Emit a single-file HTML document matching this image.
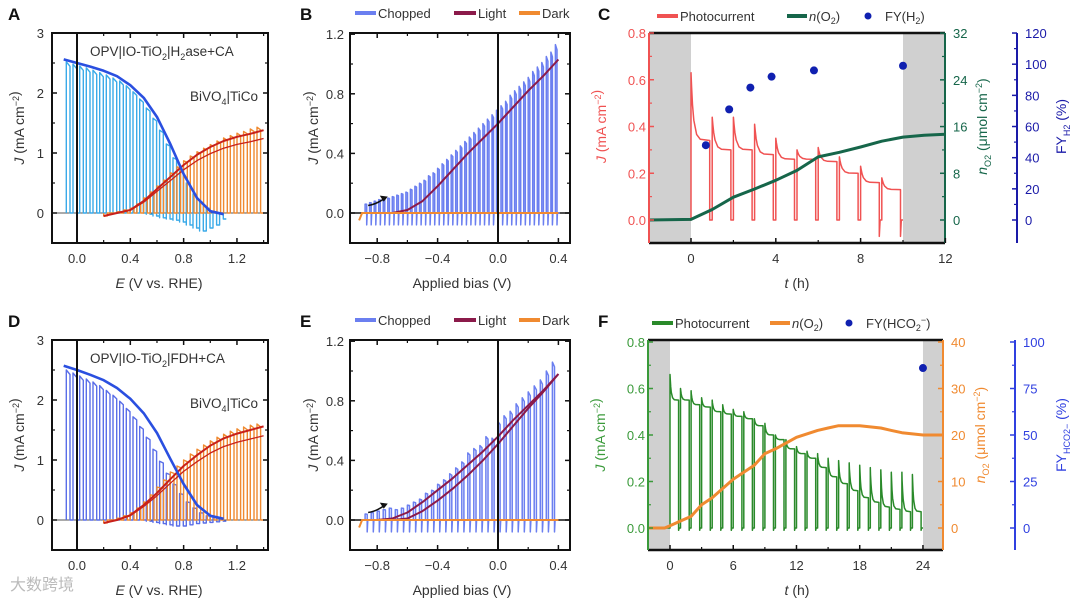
<!DOCTYPE html>
<html><head><meta charset="utf-8"><style>
html,body{margin:0;padding:0;background:#fff;}
svg{display:block;font-family:"Liberation Sans","Noto Sans CJK SC",sans-serif;}
</style></head><body>
<svg id="chart" width="1080" height="603" viewBox="0 0 1080 603" xmlns="http://www.w3.org/2000/svg"></svg>
<script>
// ---------- DATA ----------
// Panel A
const A_lightE=[-0.1,0,0.1,0.2,0.3,0.4,0.5,0.6,0.7,0.8,0.9,1.0,1.1];
const A_lightJ=[2.56,2.5,2.44,2.37,2.28,2.13,1.92,1.6,1.15,0.65,0.25,0.03,-0.02];
const A_chopE=[-0.08,-0.03,0.02,0.07,0.12,0.17,0.22,0.27,0.32,0.37,0.42,0.47,0.52,0.57,0.62,0.67,0.72,0.77,0.82,0.87,0.92,0.97,1.02,1.07];
const A_chopOn=[2.52,2.48,2.45,2.42,2.38,2.34,2.3,2.25,2.2,2.12,2.02,1.9,1.75,1.58,1.38,1.15,0.92,0.7,0.5,0.32,0.18,0.08,0.02,0];
const A_chopOff=[0,0,0,0,0,0,0,0,0,0,0,0,-0.02,-0.05,-0.08,-0.1,-0.12,-0.15,-0.2,-0.25,-0.3,-0.25,-0.2,-0.1];
const A_bivE=[0.2,0.3,0.4,0.5,0.6,0.7,0.8,0.9,1.0,1.1,1.2,1.3,1.4];
const A_bivJ=[-0.05,0,0.05,0.2,0.4,0.6,0.8,0.97,1.1,1.2,1.27,1.32,1.38];
const A_bchopE=[0.2,0.25,0.3,0.35,0.4,0.45,0.5,0.55,0.6,0.65,0.7,0.75,0.8,0.85,0.9,0.95,1.0,1.05,1.1,1.15,1.2,1.25,1.3,1.35];
const A_bchopOn=[-0.05,0,0.02,0.05,0.08,0.15,0.25,0.35,0.45,0.55,0.67,0.77,0.87,0.95,1.02,1.08,1.14,1.2,1.25,1.29,1.33,1.36,1.4,1.43];
// Panel D
const D_lightJ=[2.57,2.5,2.42,2.33,2.2,2.02,1.78,1.45,1.02,0.6,0.25,0.07,0.02];
const D_chopOn=[2.5,2.45,2.4,2.35,2.3,2.24,2.16,2.08,1.98,1.86,1.72,1.56,1.38,1.18,0.98,0.78,0.6,0.44,0.3,0.2,0.12,0.07,0.04,0.02];
const D_chopOff=[0,0,0,0,0,0,0,0,0,0,0,0,-0.02,-0.04,-0.06,-0.08,-0.1,-0.1,-0.08,-0.06,-0.05,-0.04,-0.03,-0.02];
const D_bivJ=[-0.05,0,0.08,0.25,0.45,0.68,0.9,1.08,1.24,1.36,1.44,1.5,1.56];
const D_bchopOn=[-0.05,0,0.03,0.07,0.12,0.2,0.3,0.42,0.55,0.67,0.8,0.9,1.0,1.1,1.18,1.25,1.32,1.38,1.43,1.48,1.52,1.55,1.58,1.6];
// Panel B
const B_lightV=[-0.9,-0.8,-0.7,-0.6,-0.5,-0.4,-0.3,-0.2,-0.1,0,0.1,0.2,0.3,0.4];
const B_lightJ=[0,0,0,0.02,0.08,0.18,0.29,0.4,0.5,0.6,0.71,0.82,0.92,1.03];
const B_chopV=[-0.88,-0.85,-0.82,-0.79,-0.76,-0.73,-0.70,-0.67,-0.64,-0.61,-0.58,-0.55,-0.52,-0.49,-0.46,-0.43,-0.40,-0.37,-0.34,-0.31,-0.28,-0.25,-0.22,-0.19,-0.16,-0.13,-0.10,-0.07,-0.04,-0.01,0.02,0.05,0.08,0.11,0.14,0.17,0.20,0.23,0.26,0.29,0.32,0.35,0.38];
const B_chopOn=[0.06,0.07,0.08,0.09,0.1,0.1,0.11,0.12,0.13,0.14,0.16,0.18,0.2,0.22,0.25,0.27,0.3,0.33,0.36,0.39,0.42,0.45,0.48,0.51,0.54,0.57,0.6,0.63,0.66,0.69,0.72,0.75,0.79,0.82,0.85,0.88,0.91,0.95,0.98,1.01,1.05,1.08,1.13];
// Panel E
const E_lightV=[-0.9,-0.8,-0.7,-0.6,-0.5,-0.4,-0.3,-0.2,-0.1,0,0.1,0.2,0.3,0.4];
const E_upJ=[0,0,0.01,0.05,0.12,0.2,0.28,0.37,0.46,0.56,0.67,0.77,0.87,0.98];
const E_downJ=[0,0,0,0.01,0.06,0.13,0.21,0.3,0.4,0.51,0.63,0.75,0.86,0.98];
const E_chopV=[-0.88,-0.84,-0.8,-0.76,-0.72,-0.68,-0.64,-0.6,-0.56,-0.52,-0.48,-0.44,-0.4,-0.36,-0.32,-0.28,-0.24,-0.2,-0.16,-0.12,-0.08,-0.04,0.0,0.04,0.08,0.12,0.16,0.2,0.24,0.28,0.32,0.36];
const E_chopOn=[0.04,0.05,0.06,0.07,0.08,0.07,0.08,0.1,0.12,0.14,0.18,0.2,0.24,0.27,0.31,0.35,0.39,0.45,0.48,0.5,0.56,0.55,0.66,0.7,0.73,0.78,0.82,0.86,0.9,0.94,1.0,1.06];
// Panel C
const C_segT=[0,1,2,3,4,5,6,7,8,9];
const C_peak=[0.63,0.44,0.44,0.41,0.35,0.3,0.31,0.27,0.23,0.18];
const C_end=[0.34,0.3,0.3,0.28,0.26,0.26,0.25,0.2,0.16,0.13];
const C_dip=[0,0,0,0,0,0,0,0,-0.07,-0.07];
const C_nT=[-2,0,1,2,3,4,5,6,7,8,9,10,11,12];
const C_n=[0,0.1,1.8,3.9,5.3,6.8,8.5,10.8,11.6,12.5,13.5,14.2,14.5,14.7];
const C_fyT=[0.7,1.8,2.8,3.8,5.8,10];
const C_fy=[48,71,85,92,96,99];
// Panel F
const F_segT=[0,1,2,3,4,5,6,7,8,9,10,11,12,13,14,15,16,17,18,19,20,21,22,23];
const F_peak=[0.66,0.6,0.59,0.56,0.55,0.53,0.51,0.5,0.47,0.45,0.4,0.38,0.35,0.33,0.32,0.3,0.29,0.28,0.27,0.26,0.25,0.24,0.24,0.23];
const F_end=[0.55,0.55,0.53,0.52,0.5,0.49,0.48,0.47,0.44,0.4,0.38,0.34,0.32,0.3,0.26,0.22,0.19,0.16,0.13,0.11,0.09,0.08,0.07,0.07];
const F_nT=[-2,-0.5,0,1,2,3,4,6,8,9,10,12,14,15,16,18,20,21,22,24,26];
const F_n=[0,0,0.5,1.5,2.5,5,6.5,10.5,13.5,16,17,19.5,21,21.5,22,22,21.5,21,20.5,20,20];
const F_fyT=[24];
const F_fy=[86];

// ---------- DRAW ----------
const NS='http://www.w3.org/2000/svg';
const svg=document.getElementById('chart');
function mk(tag,attrs,name){
  const e=document.createElementNS(NS,tag);
  for(const k in attrs) e.setAttribute(k,attrs[k]);
  
  
  svg.appendChild(e); return e;
}
function ln(x1,y1,x2,y2,c,w,name){return mk('line',{x1,y1,x2,y2,stroke:c,'stroke-width':w},name);}
function tx(x,y,s,o,name){const e=mk('text',Object.assign({x,y,'font-size':13,fill:'#333'},o||{}),name);e.innerHTML=s;return e;}
function poly(pts,c,w,name){return mk('path',{d:'M'+pts.map(p=>p[0].toFixed(1)+','+p[1].toFixed(1)).join('L'),fill:'none',stroke:c,'stroke-width':w,'stroke-linejoin':'round'},name);}
function series(xs,ys,fx,fy){return xs.map((v,i)=>[fx(v),fy(ys[i])]);}
function chop(pos,on,off,fx,fy,frac,spike){
  const p=[];const step=pos.length>1?pos[1]-pos[0]:0.05;
  pos.forEach((v,i)=>{const o=off?off[i]:0;p.push([fx(v),fy(o)]);p.push([fx(v),fy(on[i])]);p.push([fx(v+step*frac),fy(on[i]*0.97)]);p.push([fx(v+step*frac),fy(o-(spike||0))]);p.push([fx(v+step*frac+step*0.1),fy(o)]);p.push([fx(v+step),fy(o)]);});
  return p;
}
function box(x0,y0,x1,y1,name){mk('rect',{x:x0,y:y0,width:x1-x0,height:y1-y0,fill:'none',stroke:'#111','stroke-width':2},name);}
function yTicks(x,vals,fy,dir,c,labs,lx,anchor,name,minor){
  vals.forEach((v,i)=>{ln(x,fy(v),x+dir*5,fy(v),c,1.5,name+'-tick');if(labs)tx(lx,fy(v)+5,labs[i],{'text-anchor':anchor,fill:c==='#111'?'#333':c},name+'-label');});
  (minor||[]).forEach(v=>ln(x,fy(v),x+dir*3,fy(v),c,1.2,name+'-minor-tick'));
}
function xTicks(y,vals,fx,dir,labs,ly,name,minor){
  vals.forEach((v,i)=>{ln(fx(v),y,fx(v),y+dir*5,'#111',1.5,name+'-tick');if(labs)tx(fx(v),ly,labs[i],{'text-anchor':'middle'},name+'-label');});
  (minor||[]).forEach(v=>ln(fx(v),y,fx(v),y+dir*3,'#111',1.2,name+'-minor-tick'));
}
function ylabelRot(x,y,html,c,name){const e=mk('text',{x:0,y:0,'font-size':14,fill:c,'text-anchor':'middle',transform:`translate(${x},${y}) rotate(-90)`},name);e.innerHTML=html;}
function panelLetter(x,y,s){const e=mk('text',{x,y,'font-size':17,'font-weight':'bold',fill:'#111'},'panel-label-'+s.toLowerCase());e.textContent=s;}

// ===== Panels A & D =====
function panelAD(off,letter,lightJ,chopOn,chopOff,bivJ,bchopOn,lightC,chopC,label){
  const fx=v=>77+v*133.3, fy=j=>213+off-j*60;
  const x0=52,x1=268,y0=33+off,y1=243+off;
  panelLetter(8,20+off,letter);
  ln(x0,fy(0),x1,fy(0),'#555',1,'zero-line');
  poly(chop(A_chopE,chopOn,chopOff,fx,fy,0.55),chopC,1.4,'opv-chopped-trace');
  poly(chop(A_bchopE,bchopOn,null,fx,fy,0.55),'#f08a30',1.4,'bivo4-chopped-trace');
  poly(series(A_bivE,bivJ,fx,fy),'#c8201a',2,'bivo4-light-curve');
  poly(series(A_bivE,bivJ.map(v=>v*0.9),fx,fy),'#c8201a',1.3,'bivo4-return-curve');
  poly(series(A_lightE,lightJ,fx,fy),lightC,2.6,'opv-light-curve');
  ln(fx(0),y0,fx(0),y1,'#111',2,'zero-bias-line');
  box(x0,y0,x1,y1,'plot-frame');
  yTicks(x0,[0,1,2,3],fy,1,'#111',['0','1','2','3'],44,'end','y-axis',[0.5,1.5,2.5,-0.5].filter(v=>v>-0.5));
  yTicks(x1,[0,1,2,3],fy,-1,'#111',null,0,'end','y-axis-right',[0.5,1.5,2.5]);
  xTicks(y1,[0,0.4,0.8,1.2],fx,-1,['0.0','0.4','0.8','1.2'],y1+20,'x-axis',[0.2,0.6,1.0,1.4]);
  xTicks(y0,[0,0.4,0.8,1.2],fx,1,null,0,'x-axis-top',[0.2,0.6,1.0,1.4]);
  ylabelRot(24,128+off,'<tspan font-style="italic">J</tspan> (mA cm<tspan dy="-5" font-size="9">−2</tspan><tspan dy="5"></tspan>)','#333','y-axis-title');
  tx(159,y1+45,'<tspan font-style="italic">E</tspan> (V vs. RHE)',{'text-anchor':'middle','font-size':14},'x-axis-title');
  tx(90,56+off,label,{'font-size':13.5},'opv-annotation');
  tx(190,101+off,'BiVO<tspan dy="4" font-size="9">4</tspan><tspan dy="-4">|TiCo</tspan>',{'font-size':13.5},'bivo4-annotation');
}
panelAD(0,'A',A_lightJ,A_chopOn,A_chopOff,A_bivJ,A_bchopOn,'#2a4fe0','#3aaae8','OPV|IO-TiO<tspan dy="4" font-size="9">2</tspan><tspan dy="-4">|H</tspan><tspan dy="4" font-size="9">2</tspan><tspan dy="-4">ase+CA</tspan>');
panelAD(307,'D',D_lightJ,D_chopOn,D_chopOff,D_bivJ,D_bchopOn,'#2a4fe0','#5a6ee8','OPV|IO-TiO<tspan dy="4" font-size="9">2</tspan><tspan dy="-4">|FDH+CA</tspan>');

// ===== Panels B & E =====
function legendBE(off){
  const y=13+off;
  ln(355,y,376,y,'#6b7ff0',4,'legend-chopped-swatch');tx(378,y+5,'Chopped',{},'legend-chopped-label');
  ln(454,y,476,y,'#8b1a4a',4,'legend-light-swatch');tx(478,y+5,'Light',{},'legend-light-label');
  ln(519,y,540,y,'#f08a30',4,'legend-dark-swatch');tx(542,y+5,'Dark',{},'legend-dark-label');
}
function panelBE(off,letter,chopV,chopOn,branches){
  const fx=v=>498+v*151, fy=j=>213+off-j*149;
  const x0=350,x1=570,y0=33+off,y1=243+off;
  panelLetter(300,20+off,letter);
  legendBE(off);
  ln(x0,fy(0),x1,fy(0),'#111',1.5,'zero-line');
  poly(chop(chopV,chopOn,null,fx,fy,0.35,0.08),'#6b7ff0',1.5,'chopped-trace');
  branches.forEach(b=>poly(series(b[0],b[1],fx,fy),'#8b1a4a',2,'light-curve'));
  poly([[fx(-0.92),fy(-0.05)],[fx(-0.9),fy(0)],[fx(0.4),fy(0)]],'#f08a30',2,'dark-curve');
  ln(fx(0),y0,fx(0),y1,'#111',2,'zero-bias-line');
  box(x0,y0,x1,y1,'plot-frame');
  yTicks(x0,[0,0.4,0.8,1.2],fy,1,'#111',['0.0','0.4','0.8','1.2'],344,'end','y-axis',[0.2,0.6,1.0]);
  yTicks(x1,[0,0.4,0.8,1.2],fy,-1,'#111',null,0,'end','y-axis-right',[0.2,0.6,1.0]);
  xTicks(y1,[-0.8,-0.4,0,0.4],fx,-1,['−0.8','−0.4','0.0','0.4'],y1+20,'x-axis',[-0.6,-0.2,0.2]);
  xTicks(y0,[-0.8,-0.4,0,0.4],fx,1,null,0,'x-axis-top',[-0.6,-0.2,0.2]);
  ylabelRot(318,128+off,'<tspan font-style="italic">J</tspan> (mA cm<tspan dy="-5" font-size="9">−2</tspan><tspan dy="5"></tspan>)','#333','y-axis-title');
  tx(462,y1+45,'Applied bias (V)',{'text-anchor':'middle','font-size':14},'x-axis-title');
  mk('path',{d:`M${fx(-0.86)},${fy(0.05)} Q${fx(-0.8)},${fy(0.06)} ${fx(-0.75)},${fy(0.1)}`,fill:'none',stroke:'#111','stroke-width':1.5},'scan-direction-arrow');
  mk('path',{d:`M${fx(-0.73)},${fy(0.11)} l-8,-1 l4,6 z`,fill:'#111'},'scan-direction-arrowhead');
}
panelBE(0,'B',B_chopV,B_chopOn,[[B_lightV,B_lightJ]]);
panelBE(307,'E',E_chopV,E_chopOn,[[E_lightV,E_upJ],[E_lightV,E_downJ]]);

// ===== Panels C & F =====
function segTrace(segT,peak,end,dip,fx,fy,onFrac){
  const p=[[fx(-2),fy(0)],[fx(segT[0]),fy(0)]];
  segT.forEach((t,i)=>{
    p.push([fx(t),fy(peak[i])]);
    const d=peak[i]-end[i];
    [0.03,0.08,0.15,0.3,0.5].forEach(f=>p.push([fx(t+f*onFrac),fy(end[i]+d*Math.exp(-f*8))]));
    p.push([fx(t+onFrac),fy(end[i])]);
    p.push([fx(t+onFrac),fy(dip?dip[i]:-0.01)]);
    p.push([fx(t+onFrac+0.04),fy(0)]);
    p.push([fx(t+1),fy(0)]);
  });
  return p;
}
function panelCF(o){
  const off=o.off, x0=o.x0,x1=o.x1,y0=33+off,y1=o.y1;
  panelLetter(598,20+off,o.letter);
  mk('rect',{x:x0,y:y0,width:o.fx(0)-x0,height:y1-y0,fill:'#d0d0d0'},'dark-period-start');
  mk('rect',{x:o.fx(o.grayEnd),y:y0,width:x1-o.fx(o.grayEnd),height:y1-y0,fill:'#d0d0d0'},'dark-period-end');
  poly(segTrace(o.segT,o.peak,o.end,o.dip,o.fx,o.fy,o.onFrac),o.jC,1.5,'photocurrent-trace');
  poly(series(o.nT,o.n,o.fx,o.fn),o.nC,3,'oxygen-amount-trace');
  o.fyT.forEach((t,i)=>{const c=mk('circle',{cx:o.fx(t),cy:o.ff(o.fy2[i]),r:4,fill:'#1020b0'},'faradaic-yield-point');});
  ln(x0,y0,x1,y0,'#111',2.5,'top-frame');
  ln(x0,y1,x1,y1,'#111',2.5,'bottom-frame');
  ln(x0,y0,x0,y1,o.jC2,2,'left-axis-line');
  ln(x1,y0,x1,y1,o.nC2,2,'right-axis-line');
  yTicks(x0,o.jTicks,o.fy,1,o.jC2,o.jTicks.map(v=>v.toFixed(1)),x0-3,'end','j-axis',o.jMinor);
  yTicks(x1,o.nTicks,o.fn,-1,o.nC2,o.nTicks.map(String),x1+8,'start','n-axis',o.nMinor);
  ln(o.bx,y0,o.bx,y1,o.bC,2,'fy-axis-line');
  yTicks(o.bx,o.bTicks,o.ff,-1,o.bC,o.bTicks.map(String),o.bx+8,'start','fy-axis',o.bMinor);
  xTicks(y1,o.tTicks,o.fx,-1,o.tTicks.map(String),y1+20,'time-axis',o.tMinor);
  tx(797,y1+45,'<tspan font-style="italic">t</tspan> (h)',{'text-anchor':'middle','font-size':14},'time-axis-title');
  ylabelRot(o.x0-43,o.fy(0.4),'<tspan font-style="italic">J</tspan> (mA cm<tspan dy="-5" font-size="9">−2</tspan><tspan dy="5"></tspan>)',o.jC2,'j-axis-title');
  ylabelRot(x1+42,o.fy(0.4),'<tspan font-style="italic">n</tspan><tspan dy="4" font-size="9">O2</tspan><tspan dy="-4"> (μmol cm</tspan><tspan dy="-5" font-size="9">−2</tspan><tspan dy="5">)</tspan>',o.nC2,'n-axis-title');
  ylabelRot(1066,o.fy(0.4),o.fyLabel,o.bC,'fy-axis-title');
  // legend
  const ly=16+off;
  ln(o.lg[0],ly,o.lg[0]+21,ly,o.jC,4,'legend-photocurrent-swatch');tx(o.lg[0]+23,ly+5,'Photocurrent',{},'legend-photocurrent-label');
  ln(o.lg[1],ly,o.lg[1]+20,ly,o.nC,4,'legend-oxygen-swatch');tx(o.lg[1]+22,ly+5,'<tspan font-style="italic">n</tspan>(O<tspan dy="3" font-size="9">2</tspan><tspan dy="-3">)</tspan>',{},'legend-oxygen-label');
  mk('circle',{cx:o.lg[2],cy:ly,r:3.5,fill:'#1020b0'},'legend-fy-marker');tx(o.lg[2]+17,ly+5,o.fyLeg,{},'legend-fy-label');
}
panelCF({off:0,letter:'C',x0:649,x1:945,y1:243,grayEnd:10,
  fx:t=>691+t*21.2, fy:j=>220-j*233.75, fn:n=>220-n*5.84, ff:f=>220-f*1.558,
  segT:C_segT,peak:C_peak,end:C_end,dip:C_dip,onFrac:0.88,nT:C_nT,n:C_n,fyT:C_fyT,fy2:C_fy,
  jC:'#f05252',jC2:'#f05252',nC:'#16664a',nC2:'#16664a',bC:'#1a1aa8',bx:1017,
  jTicks:[0,0.2,0.4,0.6,0.8],jMinor:[0.1,0.3,0.5,0.7],nTicks:[0,8,16,24,32],nMinor:[4,12,20,28],
  bTicks:[0,20,40,60,80,100,120],bMinor:[10,30,50,70,90,110],tTicks:[0,4,8,12],tMinor:[2,6,10],
  fyLabel:'FY<tspan dy="4" font-size="9">H2</tspan><tspan dy="-4"> (%)</tspan>',
  fyLeg:'FY(H<tspan dy="3" font-size="9">2</tspan><tspan dy="-3">)</tspan>',lg:[657,787,868]});
panelCF({off:307,letter:'F',x0:648,x1:943,y1:550,grayEnd:24,
  fx:t=>670+t*10.54, fy:j=>528-j*232.5, fn:n=>528-n*4.65, ff:f=>528-f*1.86,
  segT:F_segT,peak:F_peak,end:F_end,dip:null,onFrac:0.82,nT:F_nT,n:F_n,fyT:F_fyT,fy2:F_fy,
  jC:'#2a8a2a',jC2:'#3a9a3a',nC:'#f08a30',nC2:'#f08a30',bC:'#3040e0',bx:1015,
  jTicks:[0,0.2,0.4,0.6,0.8],jMinor:[0.1,0.3,0.5,0.7],nTicks:[0,10,20,30,40],nMinor:[5,15,25,35],
  bTicks:[0,25,50,75,100],bMinor:[12.5,37.5,62.5,87.5],tTicks:[0,6,12,18,24],tMinor:[3,9,15,21],
  fyLabel:'FY<tspan dy="4" font-size="9">HCO2−</tspan><tspan dy="-4"> (%)</tspan>',
  fyLeg:'FY(HCO<tspan dy="3" font-size="9">2</tspan><tspan dy="-8" font-size="9">−</tspan><tspan dy="5">)</tspan>',lg:[652,770,849]});

// watermark
tx(10,590,'大数跨境',{'font-size':16,fill:'#bbb'},'watermark');
</script>
</body></html>
